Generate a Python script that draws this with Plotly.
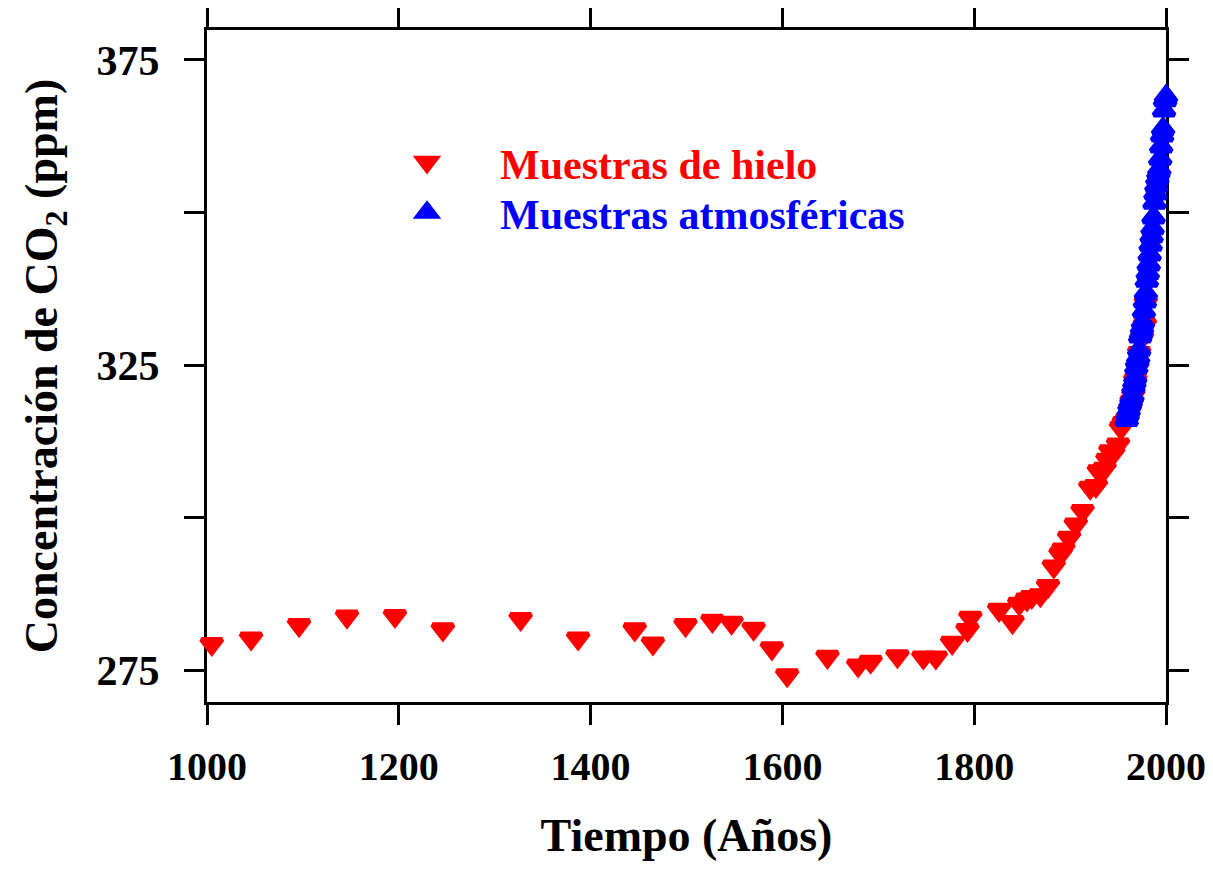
import plotly.graph_objects as go

# Ice-core samples (red, downward triangles)
ice_years = [1005, 1046, 1096, 1146, 1196, 1246, 1327, 1387, 1446, 1465,
             1499, 1527, 1547, 1570, 1589, 1605, 1647, 1679, 1692, 1720,
             1747, 1760, 1777, 1793, 1796, 1826, 1840, 1847, 1855, 1860,
             1869, 1877, 1883, 1890, 1893, 1899, 1906, 1913, 1921, 1927,
             1930, 1936, 1939, 1942, 1945, 1950, 1953, 1956, 1959, 1962,
             1964, 1966, 1968, 1970, 1972, 1975, 1978, 1979]
ice_co2 = [279.3, 280.2, 282.4, 283.8, 283.9, 281.7, 283.4, 280.2, 281.7, 279.4,
           282.4, 283.1, 282.8, 281.8, 278.6, 274.2, 277.2, 275.8, 276.4, 277.3,
           277.1, 277.1, 279.5, 281.6, 283.6, 284.9, 282.9, 285.9, 286.6, 287.0,
           287.3, 288.8, 292.0, 294.0, 294.8, 296.7, 298.9, 301.1, 304.9, 305.2,
           307.6, 308.0, 309.5, 310.9, 310.5, 312.0, 314.7, 315.5, 316.0, 317.5,
           319.0, 320.0, 322.5, 324.5, 327.0, 329.5, 331.6, 335.2]

# Atmospheric samples (blue, upward triangles)
atm_years = list(range(1959, 2001))
atm_co2 = [316.0, 316.9, 317.6, 318.5, 319.0, 319.6, 320.0, 321.4, 322.2, 323.0,
           324.6, 325.7, 326.3, 327.5, 329.7, 330.2, 331.1, 332.0, 333.8, 335.4,
           336.8, 338.8, 340.1, 341.5, 343.1, 344.7, 346.1, 347.4, 349.2, 351.6,
           353.1, 354.4, 355.6, 356.5, 357.1, 358.8, 360.8, 362.6, 363.7, 366.7,
           368.4, 369.0]

x_ticks = [1000, 1200, 1400, 1600, 1800, 2000]
y_ticks = [275, 325, 375]
y_minor_ticks = [300, 350]

FONT = "Liberation Serif, Times New Roman, serif"

fig = go.Figure()
fig.add_trace(go.Scatter(
    x=ice_years, y=ice_co2, mode="markers",
    name='<span style="color:#ff0000">Muestras de hielo</span>',
    marker=dict(symbol="triangle-down", size=18, color="#ff0000",
                line=dict(color="#ff0000", width=5)),
    cliponaxis=False, legend="legend",
))
fig.add_trace(go.Scatter(
    x=atm_years, y=atm_co2, mode="markers",
    name='<span style="color:#0000ff">Muestras atmosféricas</span>',
    marker=dict(symbol="triangle-up", size=18, color="#0000ff",
                line=dict(color="#0000ff", width=5)),
    cliponaxis=False, legend="legend2",
))

axis_common = dict(
    showline=True, linecolor="black", linewidth=3,
    ticks="outside", ticklen=20, tickwidth=3, tickcolor="black",
    mirror="ticks", showgrid=False, zeroline=False, automargin=False,
    layer="below traces",
)

legend_common = dict(
    xanchor="left", yanchor="top",
    bgcolor="rgba(0,0,0,0)", borderwidth=0,
    itemwidth=136,
    font=dict(family=FONT, size=42, weight="bold"),
)

fig.update_layout(
    width=1197, height=853,
    margin=dict(l=199, r=39, t=22, b=159, autoexpand=False),
    paper_bgcolor="white", plot_bgcolor="white",
    font=dict(family=FONT, color="black"),
    xaxis=dict(range=[1000, 2000], tickvals=x_ticks,
               ticklabeloverflow="allow",
               tickfont=dict(family=FONT, size=40, color="black", weight="bold"),
               title=dict(text="Tiempo (Años)", standoff=40,
                          font=dict(family=FONT, size=46, color="black", weight="bold")),
               ticklabelstandoff=7,
               **axis_common),
    yaxis=dict(range=[269.8, 379.9], tickvals=y_ticks,
               minor=dict(tickvals=y_minor_ticks, ticks="outside", ticklen=20,
                          tickwidth=3, tickcolor="black", showgrid=False),
               tickfont=dict(family=FONT, size=42, color="black", weight="bold"),
               title=dict(text="Concentración de CO<sub>2</sub> (ppm)", standoff=25,
                          font=dict(family=FONT, size=46, color="black", weight="bold")),
               ticklabelstandoff=16,
               **axis_common),
    showlegend=True,
    legend=dict(x=147 / 959, y=0.8534, **legend_common),
    legend2=dict(x=147 / 959, y=0.7790, **legend_common),
)

fig.write_html("out.html")
